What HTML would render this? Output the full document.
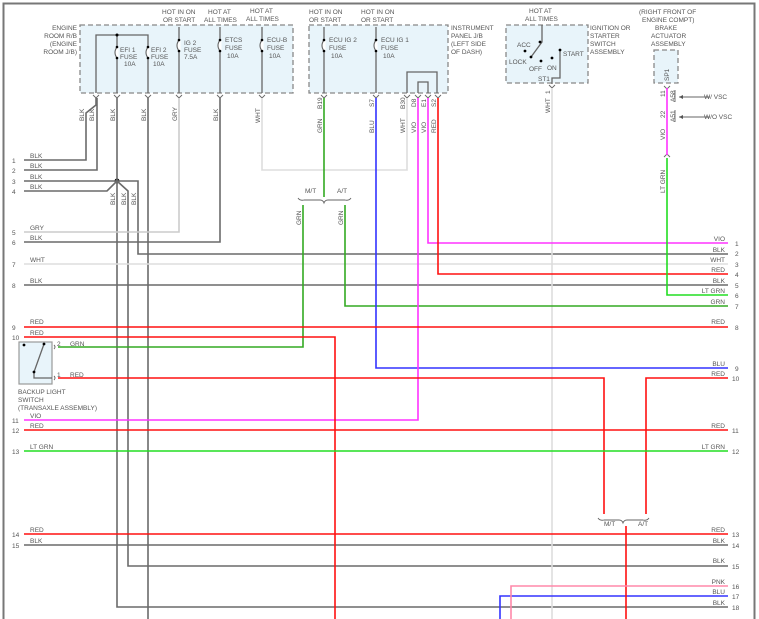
<!DOCTYPE html>
<html><head><meta charset="utf-8"><style>
html,body{margin:0;padding:0;background:#fff}
svg{display:block}
text{font-family:"Liberation Sans",sans-serif;font-size:6.5px;fill:#555}
</style></head><body>
<svg width="759" height="619" viewBox="0 0 759 619" xmlns="http://www.w3.org/2000/svg">
<rect x="3.5" y="3.5" width="751" height="620" fill="none" stroke="#777" stroke-width="2"/>
<g fill="#e8f4fa" stroke="#888" stroke-width="1.3" stroke-dasharray="5,3">
<rect x="80" y="25" width="213" height="68"/>
<rect x="309" y="25" width="139" height="68"/>
<rect x="506" y="25" width="82" height="58"/>
<rect x="654" y="50" width="24" height="33"/>
</g>
<rect x="19" y="342" width="33" height="42" fill="#e8f4fa" stroke="#999" stroke-width="1.2"/>
<g text-anchor="end"><text x="77" y="30">ENGINE</text><text x="77" y="38">ROOM R/B</text><text x="77" y="46">(ENGINE</text><text x="77" y="54">ROOM J/B)</text></g>
<text x="162" y="14">HOT IN ON</text><text x="163" y="22">OR START</text>
<text x="208" y="14">HOT AT</text><text x="204" y="22">ALL TIMES</text>
<text x="250" y="13">HOT AT</text><text x="246" y="21">ALL TIMES</text>
<text x="309" y="14">HOT IN ON</text><text x="309" y="22">OR START</text>
<text x="361" y="14">HOT IN ON</text><text x="361" y="22">OR START</text>
<text x="451" y="30">INSTRUMENT</text><text x="451" y="38">PANEL J/B</text><text x="451" y="46">(LEFT SIDE</text><text x="451" y="54">OF DASH)</text>
<text x="529" y="13">HOT AT</text><text x="525" y="21">ALL TIMES</text>
<text x="590" y="30">IGNITION OR</text><text x="590" y="38">STARTER</text><text x="590" y="46">SWITCH</text><text x="590" y="54">ASSEMBLY</text>
<text x="639" y="14">(RIGHT FRONT OF</text><text x="642" y="22">ENGINE COMPT)</text><text x="655" y="30">BRAKE</text><text x="651" y="38">ACTUATOR</text><text x="651" y="46">ASSEMBLY</text>
<text x="18" y="394">BACKUP LIGHT</text><text x="18" y="402">SWITCH</text><text x="18" y="410">(TRANSAXLE ASSEMBLY)</text>
<g stroke="#666" stroke-width="1.3" fill="none">
<path d="M96 93V35H148V93M117 35V93M179 27V93M220 27V93M262 27V93M324 27V93M376 27V93"/>
<path d="M407 93V72H437V93M418 93V82H428V93"/>
<path d="M542 25V42L531 57M560 50V78H552V84"/>
<path d="M44 344L34 372V378H52"/>
</g>
<g fill="#fff" stroke="#fff" stroke-width="3"><path d="M117 47V58M148 47V58M179 40V51M220 40V51M262 40V51M324 40V51M376 40V51"/></g>
<g fill="none" stroke="#666" stroke-width="1.1">
<path d="M117 47q-4 5.5 0 11M148 47q-4 5.5 0 11M179 40q-4 5.5 0 11M220 40q-4 5.5 0 11M262 40q-4 5.5 0 11M324 40q-4 5.5 0 11M376 40q-4 5.5 0 11"/>
</g>
<g fill="#000">
<circle cx="117" cy="35" r="1.5"/><circle cx="117" cy="47" r="1.3"/><circle cx="117" cy="58" r="1.3"/><circle cx="148" cy="47" r="1.3"/><circle cx="148" cy="58" r="1.3"/>
<circle cx="179" cy="40" r="1.3"/><circle cx="179" cy="51" r="1.3"/><circle cx="220" cy="40" r="1.3"/><circle cx="220" cy="51" r="1.3"/><circle cx="262" cy="40" r="1.3"/><circle cx="262" cy="51" r="1.3"/>
<circle cx="324" cy="40" r="1.3"/><circle cx="324" cy="51" r="1.3"/><circle cx="376" cy="40" r="1.3"/><circle cx="376" cy="51" r="1.3"/>
<circle cx="540" cy="42" r="1.4"/><circle cx="531" cy="57" r="1.4"/><circle cx="525" cy="51" r="1.4"/><circle cx="541" cy="61" r="1.4"/><circle cx="552" cy="58" r="1.4"/><circle cx="560" cy="50" r="1.4"/>
<circle cx="24" cy="345" r="1.4"/><circle cx="44" cy="344" r="1.4"/><circle cx="34" cy="372" r="1.4"/>
<circle cx="117" cy="181" r="2.5"/>
</g>
<text x="120" y="52">EFI 1</text><text x="120" y="59">FUSE</text><text x="124" y="66">10A</text>
<text x="151" y="52">EFI 2</text><text x="151" y="59">FUSE</text><text x="153" y="66">10A</text>
<text x="184" y="45">IG 2</text><text x="184" y="52">FUSE</text><text x="184" y="59">7.5A</text>
<text x="225" y="42">ETCS</text><text x="225" y="50">FUSE</text><text x="227" y="58">10A</text>
<text x="267" y="42">ECU-B</text><text x="267" y="50">FUSE</text><text x="269" y="58">10A</text>
<text x="329" y="42">ECU IG 2</text><text x="329" y="50">FUSE</text><text x="331" y="58">10A</text>
<text x="381" y="42">ECU IG 1</text><text x="381" y="50">FUSE</text><text x="383" y="58">10A</text>
<text x="517" y="47">ACC</text><text x="509" y="64">LOCK</text><text x="529" y="71">OFF</text><text x="547" y="70">ON</text><text x="563" y="56">START</text><text x="538" y="81">ST1</text>
<g fill="none" stroke="#666" stroke-width="0.9">
<path d="M93 95l3 3 3-3M114 95l3 3 3-3M145 95l3 3 3-3M176 95l3 3 3-3M217 95l3 3 3-3M259 95l3 3 3-3M321 95l3 3 3-3M373 95l3 3 3-3M404 95l3 3 3-3M415 95l3 3 3-3M425 95l3 3 3-3M435 95l3 3 3-3M549 85l3 3 3-3M664 86l3 3 3-3M664 157l3 -3 3 3"/>
<path d="M54 345q2 2 0 4M54 376q2 2 0 4"/>
<path d="M298 198q2 3 6 2h16q3 0 4 3q1-3 4-3h17q4 1 6-2M598 518q2 3 6 2h15q3 0 4 3q1-3 4-3h16q4 1 6-2"/>
<path d="M675 90v12M675 110v12M710 97H679M710 117H679"/>
</g>
<path d="M679 97l4-2v4zM679 117l4-2v4z" fill="#555"/>
<g fill="none" stroke-width="1.6">
<path stroke="#6a6a6a" d="M96 98V105L86 113V160H24M97 98V170H24M117 98V607H728M24 181H138V254H728M24 191H107L117 181L128 191V566H728M148 98V619M220 98V242H24M24 285H728M24 545H728"/>
<path stroke="#ccc" d="M179 98V232H24"/>
<path stroke="#ddd" d="M262 98V170H407V98M24 264H728M552 88V619"/>
<path stroke="#33aa22" d="M324 98V197M303 205V347H58M345 205V306H728"/>
<path stroke="#3333ff" d="M376 98V368H728M728 596H500V619"/>
<path stroke="#ff33ff" d="M418 98V420H24M428 98V243H728M667 88V155"/>
<path stroke="#ff1111" d="M438 98V274H728M24 327H728M24 337H335V619M58 378H604V514M728 378H646V514M24 430H728M24 534H728M626 526V619"/>
<path stroke="#22dd22" d="M667 158V295H728M24 451H728"/>
<path stroke="#ff88aa" d="M728 586H511V619"/>
</g>
<g>
<text transform="translate(84,121) rotate(-90)">BLK</text>
<text transform="translate(94,121) rotate(-90)">BLK</text>
<text transform="translate(115,121) rotate(-90)">BLK</text>
<text transform="translate(146,121) rotate(-90)">BLK</text>
<text transform="translate(177,121) rotate(-90)">GRY</text>
<text transform="translate(218,121) rotate(-90)">BLK</text>
<text transform="translate(260,123) rotate(-90)">WHT</text>
<text transform="translate(115,205) rotate(-90)">BLK</text>
<text transform="translate(126,205) rotate(-90)">BLK</text>
<text transform="translate(136,205) rotate(-90)">BLK</text>
<text transform="translate(322,109) rotate(-90)">B19</text>
<text transform="translate(322,133) rotate(-90)">GRN</text>
<text transform="translate(374,107) rotate(-90)">S7</text>
<text transform="translate(374,133) rotate(-90)">BLU</text>
<text transform="translate(405,109) rotate(-90)">B30</text>
<text transform="translate(405,133) rotate(-90)">WHT</text>
<text transform="translate(416,107) rotate(-90)">D8</text>
<text transform="translate(416,133) rotate(-90)">VIO</text>
<text transform="translate(426,107) rotate(-90)">E1</text>
<text transform="translate(426,133) rotate(-90)">VIO</text>
<text transform="translate(436,107) rotate(-90)">S2</text>
<text transform="translate(436,133) rotate(-90)">RED</text>
<text transform="translate(301,225) rotate(-90)">GRN</text>
<text transform="translate(343,225) rotate(-90)">GRN</text>
<text transform="translate(550,113) rotate(-90)">WHT</text>
<text transform="translate(550,94) rotate(-90)">1</text>
<text transform="translate(669,81) rotate(-90)">SP1</text>
<text transform="translate(665,97) rotate(-90)">11</text>
<text transform="translate(665,118) rotate(-90)">22</text>
<text transform="translate(675,102) rotate(-90)">A58</text>
<text transform="translate(675,122) rotate(-90)">A51</text>
<text transform="translate(665,140) rotate(-90)">VIO</text>
<text transform="translate(665,193) rotate(-90)">LT GRN</text>
</g>
<text x="305" y="193">M/T</text><text x="337" y="193">A/T</text>
<text x="604" y="526">M/T</text><text x="638" y="526">A/T</text>
<text x="704" y="99">W/ VSC</text><text x="704" y="119">W/O VSC</text>
<text x="57" y="346">2</text><text x="70" y="346">GRN</text>
<text x="57" y="377">1</text><text x="70" y="377">RED</text>
<g>
<text x="12" y="163">1</text><text x="30" y="158">BLK</text>
<text x="12" y="173">2</text><text x="30" y="168">BLK</text>
<text x="12" y="184">3</text><text x="30" y="179">BLK</text>
<text x="12" y="194">4</text><text x="30" y="189">BLK</text>
<text x="12" y="235">5</text><text x="30" y="230">GRY</text>
<text x="12" y="245">6</text><text x="30" y="240">BLK</text>
<text x="12" y="267">7</text><text x="30" y="262">WHT</text>
<text x="12" y="288">8</text><text x="30" y="283">BLK</text>
<text x="12" y="330">9</text><text x="30" y="324">RED</text>
<text x="12" y="340">10</text><text x="30" y="335">RED</text>
<text x="12" y="423">11</text><text x="30" y="418">VIO</text>
<text x="12" y="433">12</text><text x="30" y="428">RED</text>
<text x="12" y="454">13</text><text x="30" y="449">LT GRN</text>
<text x="12" y="537">14</text><text x="30" y="532">RED</text>
<text x="12" y="548">15</text><text x="30" y="543">BLK</text>
</g>
<g text-anchor="end">
<text x="725" y="241">VIO</text><text x="725" y="252">BLK</text><text x="725" y="262">WHT</text><text x="725" y="272">RED</text><text x="725" y="283">BLK</text><text x="725" y="293">LT GRN</text><text x="725" y="304">GRN</text><text x="725" y="324">RED</text><text x="725" y="366">BLU</text><text x="725" y="376">RED</text><text x="725" y="428">RED</text><text x="725" y="449">LT GRN</text><text x="725" y="532">RED</text><text x="725" y="543">BLK</text><text x="725" y="563">BLK</text><text x="725" y="584">PNK</text><text x="725" y="594">BLU</text><text x="725" y="605">BLK</text>
</g>
<g>
<text x="735" y="246">1</text><text x="735" y="256">2</text><text x="735" y="267">3</text><text x="735" y="277">4</text><text x="735" y="288">5</text><text x="735" y="298">6</text><text x="735" y="309">7</text><text x="735" y="330">8</text><text x="735" y="371">9</text><text x="732" y="381">10</text><text x="732" y="433">11</text><text x="732" y="454">12</text><text x="732" y="537">13</text><text x="732" y="548">14</text><text x="732" y="569">15</text><text x="732" y="589">16</text><text x="732" y="599">17</text><text x="732" y="610">18</text>
</g>
</svg>
</body></html>
